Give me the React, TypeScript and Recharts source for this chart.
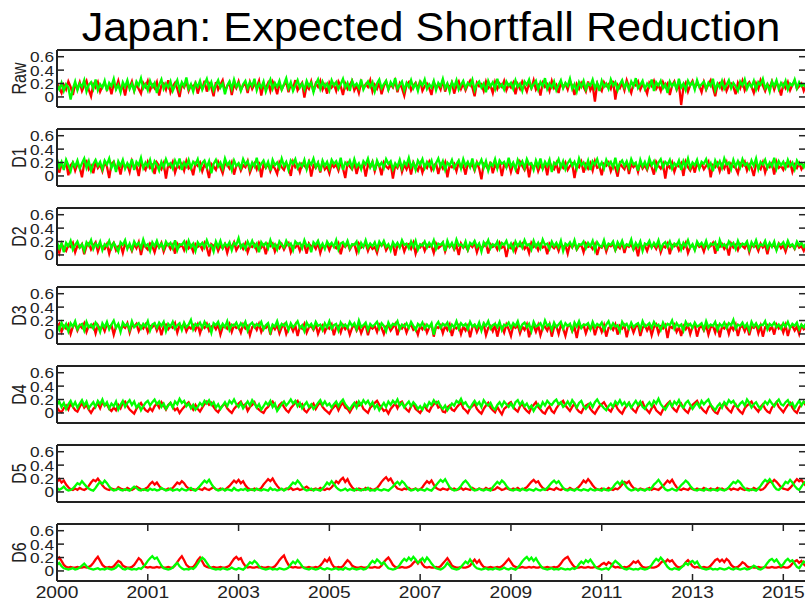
import React from 'react';
import { LineChart, Line, XAxis, YAxis, ReferenceLine } from 'recharts';

// series values are in hundredths (15 = 0.15), one point per step on the x index
const rawRed = [
  20, 13, 6, 18, 11, 23, 15, 3, 19, 12, 22, 9, 17, 24, 11, 1, 19, 14, 22, 8,
  16, 21, 11, 18, 4, 20, 13, 24, 10, 17, 2, 20, 14, 23, 9, 19, 12, 5, 21, 15,
  24, 10, 18, 13, 22, 2, 17, 20, 11, 25, 7, 16, 21, 12, 0, 19, 14, 23, 9, 18,
  15, 21, 5, 17, 12, 24, 8, 20, 14, 1, 22, 11, 18, 25, 9, 16, 21, 3, 19, 13,
  23, 10, 17, 20, 6, 22, 12, 19, 15, 24, 2, 18, 13, 21, 9, 23, 16, 4, 20, 11,
  18, 22, 7, 19, 13, 25, 10, 16, 21, -1, 17, 12, 23, 8, 20, 15, 24, 11, 18, 5,
  21, 14, 19, 9, 23, 16, 3, 20, 12, 18, 24, 10, 17, 6, 22, 13, 19, 15, 25, 8,
  18, 12, 21, 4, 16, 23, 11, 19, 14, 24, 7, 20, 13, 2, 18, 22, 10, 17, 21, 12,
  24, 9, 16, 20, 13, 3, 22, 15, 18, 11, 25, 8, 19, 14, 21, 5, 17, 23, 12, 20,
  10, 18, 24, 14, 1, 21, 16, 19, 9, 23, 13, 17, 6, 22, 12, 20, 15, 24, 10, 18,
  14, 21, 4, 19, 12, 23, 16, 8, 20, 13, 25, 11, 17, 2, 21, 15, 19, 9, 24, 13,
  18, 6, 22, 14, 20, 11, 24, 16, 3, 19, 12, 21, 15, 8, 23, 10, 17, -7, 20, 14,
  9, 22, 16, 19, 12, 24, -4, 18, 13, 21, 10, 25, 15, 6, 20, 17, 23, 11, 19, 14,
  5, 21, 16, 24, 12, 18, 9, 22, 15, 20, 3, 17, 23, 11, 19, -12, 14, 21, 8, 18,
  24, 13, 20, 16, 7, 22, 11, 19, 25, 14, 1, 18, 21, 12, 23, 9, 17, 20, 15, 4,
  21, 13, 24, 10, 18, 22, 15, 6, 20, 12, 25, 17, 9, 19, 14, 23, 11, 21, 16, 2,
  19, 13, 22, 10, 18, 24, 12, 16, 20, 9, 17,
];
const rawGreen = [
  17, 11, 21, 9, 19, 14, -4, 12, 23, 10, 20, 15, 25, 8, 18, 22, 12, 26, 10, 19,
  14, 24, 9, 21, 16, 27, 11, 18, 7, 22, 15, 25, 12, 20, 9, 23, 17, 28, 13, 19,
  10, 24, 15, 21, 6, 18, 26, 12, 20, 14, 23, 9, 17, 25, 11, 22, 16, 29, 12, 19,
  8, 21, 15, 24, 11, 19, 27, 13, 22, 10, 18, 25, 14, 20, 4, 17, 23, 12, 26, 15,
  21, 9, 19, 24, 13, 22, 16, 27, 10, 20, 14, 23, 8, 18, 26, 12, 21, 15, 24, 11,
  19, 28, 13, 22, 9, 17, 25, 14, 20, 11, 24, 16, 21, 7, 19, 26, 12, 23, 15, 20,
  10, 25, 17, 22, 12, 19, 27, 14, 21, 9, 24, 16, 20, 13, 26, 11, 18, 23, 15, 22,
  8, 20, 26, 13, 19, 24, 11, 22, 16, 28, 12, 18, 23, 10, 21, 15, 25, 13, 20, 9,
  23, 17, 26, 12, 19, 14, 24, 10, 21, 16, 27, 13, 20, 8, 22, 15, 25, 11, 18, 24,
  13, 21, 17, 26, 10, 19, 23, 14, 20, 7, 24, 16, 22, 12, 27, 15, 19, 11, 23, 17,
  21, 12, 25, 15, 20, 9, 23, 18, 26, 13, 19, 24, 11, 22, 16, 28, 12, 20, 14, 23,
  10, 18, 25, 13, 21, 16, 27, 12, 19, 8, 22, 15, 24, 11, 20, 17, 26, 13, 21, 9,
  24, 15, 20, 12, 26, 17, 22, 10, 19, 25, 14, 21, 11, 23, 16, 28, 13, 18, 24, 12,
  20, 15, 26, 9, 22, 17, 24, 13, 19, 6, 23, 16, 21, 12, 27, 14, 20, 10, 24, 17,
  22, 11, 25, 15, 19, 23, 12, 21, 16, 27, 10, 20, 14, 24, 12, 18, 25, 13, 21, 16,
  9, 23, 17, 26, 12, 20, 15, 24, 11, 22, 18, 27, 13, 19, 8, 23, 16, 25, 12, 21,
  15, 24, 11, 20, 17, 26, 13, 22, 16, 19, 14,
];
const d1Red = [
  23, 5, 17, 12, 21, 1, 16, 20, 8, 18, 13, -2, 19, 22, 10, 15, 4, 21, 12, 17,
  7, 20, 14, -3, 18, 21, 11, 16, 2, 19, 13, 17, 6, 22, 12, 15, 0, 20, 14, 9,
  21, 12, 16, 3, 20, 15, 10, 19, -4, 17, 13, 21, 5, 16, 12, 18, 8, 22, 11, 14,
  1, 19, 15, 20, 7, 17, 12, -3, 18, 14, 9, 21, 13, 4, 19, 16, 11, 20, 2, 15,
  18, 8, 16, 13, 22, 5, 14, 19, 10, 21, -2, 17, 12, 18, 7, 16, 11, 3, 20, 13,
  9, 19, 14, 0, 21, 13, 17, 6, 18, 15, 11, 20, -1, 16, 12, 19, 5, 22, 10, 14,
  4, 18, 13, 17, 8, 21, 11, -3, 19, 14, 10, 20, 3, 16, 12, 18, -1, 17, 13, 21,
  7, 19, 15, 1, 20, 14, 11, 18, -4, 16, 12, 21, 6, 17, 10, 19, 2, 20, 13, 8,
  18, 5, 16, 12, 21, 9, 15, 19, 3, 17, 11, 20, -2, 16, 13, 18, 7, 21, 12, 15,
  2, 19, 14, 17, 8, 20, 11, -5, 18, 15, 10, 21, 4, 16, 12, 19, 0, 17, 13, 20,
  6, 18, 14, 3, 21, 15, 9, 19, -2, 17, 12, 20, 7, 16, 11, 18, 1, 21, 13, 10,
  19, 4, 17, 12, 20, 9, 15, 18, -3, 16, 13, 21, 5, 17, 11, 19, 8, 22, 12, 14,
  1, 18, 15, 20, 7, 16, 12, -1, 19, 14, 10, 21, 3, 17, 13, 18, 6, 20, 11, 16,
  9, 19, 13, 2, 21, 15, 11, 18, -4, 17, 12, 20, 6, 16, 14, 19, 0, 21, 13, 8,
  17, 5, 20, 12, 18, 10, 15, 21, -2, 16, 13, 19, 7, 17, 11, 20, 3, 18, 14, 12,
  4, 19, 15, 21, 8, 17, 12, 0, 18, 14, 10, 20, 5, 16, 13, 19, 2, 21, 12, 15,
  9, 18, 14, 20, 6, 17, 12, 19, 10, 16, 13,
];
const d1Green = [
  25, 13, 21, 9, 24, 16, 7, 20, 14, 23, 11, 19, 26, 12, 22, 8, 18, 24, 15, 21,
  10, 23, 17, 26, 12, 20, 6, 22, 15, 24, 11, 19, 13, 25, 9, 21, 16, 27, 12, 20,
  14, 24, 10, 22, 17, 8, 21, 13, 25, 16, 19, 11, 23, 15, 26, 9, 20, 14, 24, 12,
  21, 17, 25, 10, 19, 23, 13, 22, 4, 18, 24, 14, 20, 11, 26, 16, 21, 9, 23, 15,
  19, 12, 25, 17, 22, 10, 20, 14, 27, 11, 18, 23, 13, 21, 8, 24, 16, 20, 12, 26,
  15, 21, 9, 23, 18, 25, 12, 19, 14, 24, 10, 22, 17, 26, 13, 20, 7, 23, 15, 21,
  11, 24, 18, 22, 13, 27, 9, 20, 16, 23, 12, 25, 14, 19, 10, 22, 17, 26, 13, 21,
  8, 23, 15, 20, 12, 25, 18, 22, 10, 19, 14, 24, 11, 21, 16, 27, 13, 20, 9, 23,
  17, 25, 12, 21, 15, 23, 10, 19, 26, 14, 22, 9, 20, 16, 24, 12, 18, 23, 11, 25,
  15, 21, 13, 26, 10, 20, 17, 24, 12, 22, 8, 19, 15, 25, 11, 23, 18, 21, 13, 27,
  14, 20, 10, 24, 16, 22, 12, 25, 17, 19, 9, 23, 14, 26, 11, 21, 15, 24, 6, 20,
  17, 25, 13, 22, 10, 19, 24, 15, 21, 11, 26, 16, 20, 12, 23, 9, 22, 17, 25, 14,
  20, 11, 24, 16, 21, 13, 27, 10, 19, 23, 15, 22, 12, 25, 17, 20, 8, 24, 14, 21,
  12, 26, 16, 22, 10, 20, 25, 13, 21, 17, 24, 11, 19, 15, 23, 9, 22, 14, 26, 12,
  20, 16, 24, 11, 21, 18, 25, 13, 19, 7, 23, 15, 22, 12, 26, 17, 20, 10, 24, 14,
  22, 13, 25, 16, 19, 11, 23, 15, 26, 10, 21, 17, 24, 12, 20, 14, 27, 11, 22, 16,
  21, 12, 24, 15, 20, 10, 23, 17, 19, 13, 22,
];
const d2Red = [
  13, 3, 17, 10, 6, 15, 12, 18, 4, 14, 11, 16, 1, 13, 17, 8, 14, 19, 5, 15,
  12, 9, 16, 2, 14, 18, 7, 13, 15, 3, 17, 11, 14, 6, 16, 10, 19, 0, 15, 12,
  8, 17, 13, 4, 16, 11, 18, 5, 14, 16, 9, 15, 2, 17, 12, 15, 7, 18, 10, 14,
  5, 16, 12, 15, 8, 18, 11, -2, 16, 13, 17, 6, 14, 10, 16, 3, 15, 12, 19, 7,
  13, 15, 9, 17, 4, 14, 12, 16, 7, 18, 11, 15, 1, 16, 13, 17, 5, 14, 10, 16,
  8, 15, 18, 4, 13, 11, 16, 6, 15, 14, 2, 17, 12, 15, 9, 18, 3, 14, 11, 16,
  7, 16, 13, 10, 17, 1, 15, 12, 18, 8, 14, 16, 4, 17, 11, 13, 17, 6, 15, 9,
  12, 3, 16, 14, 18, 7, 13, 11, 16, -1, 15, 12, 17, 5, 14, 16, 9, 18, 2, 13,
  11, 16, 6, 15, 12, 14, 3, 17, 10, 13, 18, 5, 15, 12, 16, 8, 14, 0, 17, 11,
  14, 7, 16, 12, 18, 4, 15, 10, 13, 17, 2, 16, 12, 15, 8, 18, 11, 14, -3, 13,
  10, 16, 5, 15, 13, 17, 9, 14, 3, 18, 12, 15, 7, 16, 11, 14, 1, 17, 13, 10,
  15, 6, 17, 12, 14, 2, 16, 11, 18, 8, 13, 15, 4, 17, 12, 14, 9, 16, 0, 13,
  11, 17, 5, 15, 13, 16, 7, 14, 10, 18, 3, 15, 12, 16, 8, 13, -2, 17, 11, 14,
  6, 16, 12, 15, 9, 18, 4, 14, 11, 17, 1, 15, 13, 16, 7, 14, 10, 18, 3, 12,
  15, 8, 17, 12, 14, 5, 16, 11, 13, 18, 2, 15, 12, 16, 9, 14, -1, 17, 11, 15,
  7, 16, 13, 10, 18, 4, 15, 12, 14, 6, 17, 11, 15, 1, 16, 13, 14, 8, 17, 10,
  14, 5, 16, 12, 15, 9, 17, 11, 13, 6, 15,
];
const d2Green = [
  19, 10, 17, 4, 18, 13, 21, 8, 15, 20, 11, 16, 6, 19, 14, 22, 9, 17, 12, 20,
  7, 16, 13, 21, 10, 18, 12, 5, 19, 15, 22, 9, 17, 8, 20, 14, 18, 10, 23, 13,
  16, 6, 19, 13, 21, 11, 17, 9, 20, 14, 18, 10, 22, 7, 16, 15, 20, 8, 21, 12,
  17, 6, 19, 14, 18, 11, 22, 13, 15, 5, 20, 12, 21, 10, 17, 13, 19, 7, 18, 15,
  25, 11, 16, 9, 20, 13, 21, 12, 17, 4, 19, 14, 18, 10, 22, 12, 16, 8, 20, 15,
  11, 21, 14, 17, 7, 20, 16, 18, 10, 22, 13, 16, 4, 19, 15, 21, 11, 17, 9, 20,
  14, 18, 12, 22, 8, 17, 19, 13, 21, 10, 16, 15, 20, 6, 18, 12, 22, 11, 17, 13,
  19, 9, 20, 14, 21, 12, 16, 7, 19, 13, 18, 11, 22, 15, 17, 10, 20, 12, 21, 8,
  16, 14, 20, 11, 18, 13, 22, 9, 17, 15, 19, 6, 21, 12, 18, 10, 23, 14, 16, 11,
  20, 8, 18, 15, 21, 12, 17, 5, 19, 14, 22, 10, 16, 13, 20, 9, 18, 15, 21, 11,
  17, 7, 20, 13, 19, 11, 22, 14, 16, 8, 21, 12, 18, 10, 23, 15, 17, 9, 20, 13,
  18, 11, 21, 6, 17, 14, 19, 12, 22, 9, 16, 15, 20, 10, 18, 13, 21, 7, 19, 14,
  12, 22, 10, 17, 15, 20, 8, 19, 13, 21, 11, 16, 14, 23, 9, 18, 12, 20, 6, 17,
  15, 21, 11, 18, 13, 22, 9, 16, 19, 12, 20, 10, 17, 14, 21, 8, 18, 13, 22, 11,
  16, 7, 20, 14, 18, 12, 21, 10, 17, 15, 19, 6, 22, 13, 16, 11, 20, 14, 18, 9,
  21, 12, 17, 15, 20, 8, 19, 13, 22, 11, 16, 14, 21, 10, 18, 12, 20, 7, 17, 15,
  19, 11, 21, 13, 16, 10, 20, 14, 18, 12, 17,
];
const d3Red = [
  10, 15, 3, 12, 8, 14, 0, 11, 15, 5, 13, 9, 16, 3, 12, 10, 14, 1, 13, 7,
  12, 4, 15, 10, 13, -1, 11, 14, 6, 12, 9, 16, 2, 13, 11, 15, 4, 12, 8, 14,
  3, 12, 10, 15, 5, 13, -2, 11, 14, 7, 12, 9, 16, 2, 13, 10, 15, 4, 11, 8,
  13, 6, 14, 1, 12, 9, 15, 5, 11, 13, 7, 14, -1, 10, 12, 8, 15, 3, 13, 9,
  11, 2, 14, 8, 12, -2, 10, 13, 6, 15, 3, 11, 9, 14, -1, 12, 7, 13, 1, 10,
  14, 0, 9, 12, 4, 13, -3, 11, 8, 15, 2, 10, 12, 6, 14, 0, 9, 13, 3, 11,
  8, 14, -2, 10, 12, 2, 13, 7, 11, -1, 9, 14, 5, 12, 1, 10, 13, -2, 11, 8,
  12, 3, 14, 9, 0, 11, 13, 5, 10, 15, -2, 12, 8, 13, 2, 11, 14, 6, 9, -1,
  12, 7, 13, 2, 10, 14, -4, 11, 9, 13, 1, 12, 6, 14, -3, 10, 8, 13, 0, 11,
  5, 12, -5, 10, 13, 3, 11, 7, 14, -2, 9, 12, 4, 13, -4, 10, 11, 2, 14, 7,
  -3, 12, 9, 13, 1, 11, 6, 14, -5, 10, 12, 3, 13, -2, 9, 11, 5, 14, -4, 10,
  12, 0, 13, 8, -3, 11, 14, 4, 10, -6, 12, 9, 13, 1, 11, 7, 14, -2, 10, 12,
  3, 13, -4, 9, 11, 6, 14, -1, 12, 8, 13, -5, 10, 12, 2, 11, 14, -3, 9, 13,
  5, 12, -2, 10, 14, 1, 11, 8, 13, -6, 12, 9, 14, 3, 10, -3, 12, 7, 13, 0,
  11, 14, -4, 9, 12, 5, 13, -1, 10, 12, 2, 14, -5, 11, 8, 13, 0, 12, 6, 14,
  -3, 10, 12, 4, 13, -2, 11, 9, 14, 1, 12, -4, 10, 13, 6, 11, -1, 14, 8, 12,
  2, 13, -3, 10, 12, 5, 11, 0, 13, 7, 10,
];
const d3Green = [
  13, 6, 17, 9, 15, 4, 16, 11, 19, 7, 13, 15, 5, 18, 10, 14, 8, 17, 12, 3,
  16, 10, 18, 7, 14, 20, 9, 15, 3, 17, 12, 15, 6, 19, 10, 13, 16, 8, 15, 11,
  19, 5, 14, 16, 9, 17, 12, 18, 4, 15, 11, 18, 8, 13, 16, 6, 17, 10, 14, 21,
  7, 15, 12, 17, 9, 18, 11, 14, 2, 16, 13, 18, 8, 15, 10, 19, 6, 14, 12, 17,
  9, 16, 11, 18, 5, 14, 17, 10, 15, 12, 18, 7, 13, 16, 3, 14, 11, 19, 8, 15,
  12, 17, 6, 16, 10, 14, 19, 9, 13, 4, 17, 11, 15, 8, 18, 12, 14, 6, 16, 10,
  19, 8, 13, 15, 5, 17, 11, 14, 9, 18, 12, 16, 7, 20, 10, 13, 17, 6, 15, 11,
  14, 18, 8, 16, 12, 4, 17, 10, 15, 13, 19, 7, 14, 11, 16, 9, 18, 12, 6, 15,
  11, 17, 8, 14, 10, 16, -1, 13, 18, 9, 15, 12, 17, 6, 14, 10, 19, 8, 16, 12,
  15, 7, 18, 11, 14, 9, 17, 5, 16, 12, 19, 8, 13, 15, 10, 18, 6, 14, 12, 17,
  9, 16, 12, 19, 7, 14, 17, 10, 15, 4, 18, 11, 13, 16, 8, 20, 12, 15, 6, 17,
  10, 14, 18, 8, 16, 12, 15, 5, 17, 11, 19, 9, 14, 13, 16, 7, 18, 10, 15, 12,
  17, 6, 14, 19, 9, 16, 11, 13, 4, 18, 12, 15, 8, 17, 10, 14, 16, 7, 19, 11,
  13, 16, 9, 18, 12, 14, 6, 17, 10, 15, 13, 20, 8, 16, 11, 14, 5, 18, 12, 15,
  9, 17, 11, 13, 16, 7, 19, 10, 14, 12, 18, 6, 15, 11, 17, 9, 16, 13, 21, 8,
  14, 12, 17, 10, 15, 5, 18, 11, 16, 9, 14, 13, 19, 7, 15, 12, 17, 10, 14, 8,
  16, 11, 18, 9, 15, 12, 17, 7, 14, 10, 16,
];
const d4Red = [
  8, 3, 1, 7, 11, 5, 14, 9, 4, 2, 9, 15, 8, 12, 5, 0, 6, 10, 14, 7,
  16, 11, 13, 6, 3, 8, 4, 12, 7, 15, 17, 10, 5, 2, -1, 6, 11, 15, 9, 4,
  2, 7, 3, 10, 14, 8, 16, 11, 5, 12, 15, 9, 4, 7, 0, 5, 9, 13, 16, 10,
  5, 12, 6, 2, 8, 13, 17, 12, 15, 9, 4, 1, 7, 11, 14, 7, 3, 0, 6, 10,
  14, 17, 10, 13, 3, 9, 12, 16, 8, 5, 2, 0, 6, 9, 14, 17, 11, 5, 12, 15,
  9, 4, 1, 7, 11, 15, 18, 10, 13, 4, 1, 6, 10, 14, 6, 12, 16, 9, 5, 2,
  -1, 5, 9, 12, 4, 11, 15, 8, 6, 1, 7, 12, 16, 11, 14, 6, 3, 0, 8, 11,
  15, 18, 12, 8, 3, 5, -1, 6, 10, 14, 7, 15, 17, 10, 5, 2, 10, 13, 6, 3,
  0, 6, 11, 4, 2, 9, 13, 16, 8, 10, 2, 1, 8, 11, 5, 3, 8, 12, 15, 7,
  4, 0, 7, 10, 14, 6, 2, -1, 6, 11, 15, 8, 4, 1, 9, 3, -2, 6, 9, 14,
  16, 9, 5, 2, 10, 13, 7, 3, 0, 8, 12, 16, 9, 5, 1, -1, 6, 10, 3, 0,
  7, 12, 15, 18, 11, 7, 3, 9, 14, 6, 2, 0, 7, 11, 13, 6, 2, -1, 5, 10,
  13, 16, 10, 5, 2, 9, 13, 6, 2, -1, 6, 11, 15, 8, 4, 1, 9, 13, 16, 8,
  4, 0, 7, 11, 4, 1, -2, 5, 10, 14, 17, 9, 5, 2, 10, 14, 7, 3, 0, 8,
  12, 15, 18, 11, 7, 3, 0, 8, 12, 5, 1, -1, 7, 11, 15, 8, 4, 1, 9, 13,
  6, 2, -1, 7, 11, 14, 17, 10, 6, 2, 9, 13, 6, 2, 0, 8, 12, 16, 9, 5,
  1, 7, 12, 15, 8, 3, 0, 8, 13, 16, 11,
];
const d4Green = [
  12, 17, 9, 15, 6, 13, 18, 10, 16, 8, 14, 19, 11, 17, 7, 12, 16, 9, 18, 13,
  20, 11, 16, 7, 14, 10, 17, 5, 12, 18, 9, 15, 19, 12, 17, 8, 13, 4, 10, 15,
  18, 11, 16, 20, 13, 17, 9, 14, 6, 11, 15, 8, 17, 13, 21, 15, 18, 10, 14, 7,
  12, 5, 9, 15, 11, 18, 14, 19, 12, 16, 8, 13, 6, 11, 16, 10, 18, 14, 20, 13,
  9, 15, 7, 12, 17, 11, 19, 14, 8, 13, 5, 10, 16, 12, 18, 9, 14, 3, 8, 13,
  17, 11, 15, 20, 14, 18, 10, 15, 7, 12, 16, 9, 13, 6, 10, 15, 19, 12, 17, 11,
  14, 8, 13, 17, 10, 16, 20, 13, 9, 5, 11, 15, 8, 17, 12, 19, 14, 18, 11, 16,
  7, 12, 4, 10, 15, 9, 17, 12, 18, 14, 20, 11, 15, 8, 13, 17, 10, 16, 12, 6,
  10, 5, 13, 9, 16, 12, 19, 14, 17, 10, 6, 11, 4, 9, 14, 11, 18, 15, 21, 13,
  16, 10, 7, 13, 18, 12, 16, 9, 19, 14, 11, 15, 8, 5, 12, 16, 10, 17, 13, 9,
  14, 8, 16, 19, 12, 17, 10, 14, 7, 11, 3, 9, 13, 8, 16, 11, 18, 14, 12, 17,
  20, 13, 16, 9, 12, 17, 11, 19, 14, 8, 15, 18, 10, 6, 11, 15, 9, 16, 20, 14,
  11, 7, 4, 10, 14, 9, 17, 13, 19, 12, 16, 10, 15, 8, 13, 18, 12, 17, 9, 6,
  12, 16, 10, 18, 14, 21, 13, 9, 5, 11, 16, 10, 17, 13, 19, 11, 8, 15, 18, 12,
  6, 11, 15, 9, 18, 13, 17, 20, 12, 8, 4, 10, 14, 8, 16, 12, 19, 15, 18, 11,
  9, 14, 17, 11, 20, 15, 8, 13, 16, 10, 6, 12, 17, 13, 19, 14, 10, 16, 20, 13,
  11, 16, 19, 12, 15, 7, 13, 18, 11, 17, 14,
];
const d5Red = [
  15, 19, 14, 17, 11, 7, 4, 3, 5, 3, 6, 4, 3, 5, 9, 14, 18, 16, 20, 15,
  10, 6, 4, 3, 5, 4, 3, 7, 5, 4, 3, 6, 4, 3, 5, 8, 6, 4, 3, 5,
  7, 12, 15, 11, 14, 9, 5, 4, 3, 5, 4, 6, 10, 14, 12, 16, 13, 8, 5, 3,
  4, 3, 5, 4, 3, 6, 4, 3, 5, 7, 4, 3, 5, 4, 3, 6, 9, 13, 17, 14,
  18, 13, 16, 10, 6, 4, 3, 5, 4, 3, 6, 11, 15, 19, 16, 20, 14, 9, 5, 4,
  3, 5, 4, 6, 3, 4, 5, 3, 4, 6, 8, 5, 3, 4, 5, 3, 6, 4, 3, 5,
  4, 7, 11, 16, 13, 18, 21, 15, 19, 12, 7, 4, 3, 5, 4, 3, 6, 4, 5, 3,
  4, 6, 10, 15, 19, 22, 17, 20, 14, 9, 5, 4, 3, 5, 4, 6, 3, 4, 5, 3,
  4, 7, 12, 16, 13, 17, 11, 6, 4, 3, 5, 4, 3, 6, 4, 5, 3, 4, 6, 3,
  5, 4, 3, 6, 4, 3, 5, 4, 3, 6, 4, 5, 3, 4, 7, 5, 3, 4, 6, 4,
  3, 5, 4, 6, 3, 4, 5, 7, 11, 15, 18, 14, 16, 10, 6, 4, 3, 5, 4, 3,
  6, 4, 3, 5, 4, 3, 6, 4, 3, 5, 8, 12, 17, 14, 19, 15, 10, 6, 4, 3,
  5, 4, 3, 6, 4, 3, 5, 4, 7, 11, 15, 13, 16, 10, 6, 4, 3, 5, 4, 3,
  4, 6, 3, 5, 4, 3, 6, 9, 13, 17, 14, 18, 12, 7, 4, 3, 5, 4, 3, 6,
  4, 3, 5, 4, 3, 6, 4, 3, 5, 4, 3, 6, 4, 5, 3, 4, 6, 3, 5, 4,
  3, 6, 4, 3, 5, 4, 3, 6, 4, 5, 3, 4, 7, 12, 16, 14, 18, 15, 11, 7,
  5, 4, 3, 6, 10, 15, 19, 16, 18, 13, 9,
];
const d5Green = [
  6, 3, 5, 8, 4, 2, 3, 5, 9, 13, 11, 16, 12, 8, 5, 3, 2, 6, 11, 15,
  12, 17, 13, 8, 4, 2, 3, 5, 3, 2, 4, 3, 2, 5, 8, 6, 3, 2, 4, 3,
  2, 5, 3, 4, 2, 3, 6, 4, 2, 3, 5, 2, 3, 4, 2, 5, 3, 2, 4, 6,
  3, 2, 5, 9, 13, 17, 14, 18, 12, 7, 4, 2, 3, 5, 2, 4, 3, 2, 6, 3,
  2, 4, 3, 5, 2, 3, 4, 2, 5, 3, 2, 4, 3, 2, 6, 3, 4, 2, 3, 5,
  2, 4, 6, 10, 14, 12, 17, 13, 8, 4, 2, 3, 5, 2, 4, 3, 2, 5, 9, 14,
  11, 16, 12, 7, 4, 2, 3, 5, 2, 4, 3, 2, 5, 3, 2, 4, 3, 6, 2, 3,
  2, 5, 3, 2, 4, 3, 2, 5, 8, 12, 15, 11, 16, 13, 8, 4, 2, 3, 5, 2,
  4, 3, 2, 5, 3, 2, 6, 10, 14, 18, 15, 19, 13, 7, 4, 2, 3, 5, 9, 14,
  17, 13, 8, 4, 2, 3, 5, 3, 2, 4, 3, 2, 7, 11, 15, 12, 17, 14, 9, 5,
  3, 2, 4, 3, 2, 5, 3, 2, 4, 3, 2, 5, 3, 2, 4, 3, 6, 10, 14, 17,
  13, 16, 11, 6, 3, 2, 4, 3, 2, 5, 3, 2, 4, 3, 2, 5, 3, 2, 4, 3,
  2, 5, 3, 2, 4, 7, 12, 15, 11, 16, 12, 7, 4, 2, 3, 5, 2, 4, 3, 2,
  5, 3, 6, 11, 14, 18, 13, 8, 4, 2, 3, 5, 3, 2, 6, 10, 13, 17, 14, 9,
  5, 3, 2, 4, 3, 2, 5, 3, 2, 4, 3, 2, 5, 3, 2, 4, 7, 11, 15, 13,
  17, 14, 9, 5, 3, 2, 4, 3, 2, 5, 9, 14, 18, 15, 19, 14, 8, 4, 3, 6,
  10, 15, 13, 18, 14, 9, 5, 3, 8, 13, 16,
];
const d6Red = [
  17, 20, 15, 9, 6, 5, 6, 5, 5, 6, 5, 5, 6, 5, 6, 8, 12, 17, 21, 15,
  9, 6, 5, 6, 5, 7, 11, 15, 13, 8, 6, 5, 5, 6, 9, 14, 19, 16, 10, 6,
  5, 6, 5, 5, 6, 5, 6, 5, 5, 6, 5, 5, 8, 13, 18, 22, 16, 9, 6, 5,
  6, 10, 16, 20, 14, 8, 6, 5, 5, 6, 5, 5, 6, 5, 5, 6, 8, 13, 18, 21,
  17, 19, 12, 7, 5, 6, 5, 5, 6, 5, 6, 5, 5, 6, 5, 5, 7, 11, 16, 20,
  23, 15, 9, 6, 5, 6, 5, 5, 6, 5, 5, 6, 5, 5, 6, 5, 8, 12, 17, 14,
  19, 11, 6, 5, 6, 5, 7, 12, 16, 13, 8, 6, 5, 5, 6, 5, 5, 6, 5, 5,
  6, 5, 5, 8, 13, 17, 20, 15, 9, 6, 5, 5, 6, 5, 5, 6, 8, 12, 15, 11,
  16, 10, 6, 5, 6, 5, 5, 6, 5, 7, 11, 15, 19, 14, 8, 6, 5, 5, 6, 5,
  5, 6, 8, 13, 17, 12, 16, 10, 6, 5, 5, 6, 5, 5, 6, 5, 7, 10, 14, 18,
  13, 8, 6, 5, 5, 6, 5, 5, 6, 5, 6, 5, 5, 6, 5, 5, 6, 5, 5, 6,
  5, 7, 11, 16, 19, 21, 15, 10, 6, 5, 5, 6, 5, 5, 6, 5, 5, 6, 5, 7,
  10, 12, 9, 13, 11, 7, 5, 6, 5, 5, 6, 5, 7, 10, 14, 12, 15, 10, 6, 5,
  5, 6, 5, 5, 6, 8, 12, 15, 13, 17, 14, 16, 11, 7, 5, 6, 8, 13, 16, 12,
  7, 5, 6, 5, 5, 6, 5, 5, 8, 12, 16, 18, 14, 17, 13, 18, 15, 9, 6, 5,
  6, 9, 13, 11, 7, 5, 6, 5, 5, 6, 5, 5, 6, 5, 5, 6, 5, 5, 6, 5,
  6, 5, 5, 7, 11, 14, 16, 12, 15, 10, 7,
];
const d6Green = [
  9, 12, 7, 4, 3, 2, 3, 4, 2, 3, 5, 8, 11, 7, 4, 3, 2, 3, 4, 2,
  3, 2, 4, 3, 2, 3, 5, 9, 6, 3, 2, 4, 3, 2, 3, 2, 4, 3, 6, 10,
  15, 19, 22, 18, 20, 14, 8, 4, 3, 2, 3, 5, 9, 12, 7, 4, 2, 3, 2, 4,
  3, 6, 11, 16, 20, 17, 12, 7, 4, 3, 2, 3, 2, 4, 3, 2, 3, 5, 3, 2,
  4, 3, 2, 5, 9, 13, 11, 15, 12, 7, 4, 3, 2, 3, 4, 2, 3, 2, 4, 3,
  2, 3, 5, 10, 14, 11, 16, 12, 7, 4, 3, 2, 4, 3, 2, 3, 5, 3, 2, 4,
  3, 2, 3, 4, 2, 3, 2, 5, 3, 2, 4, 3, 2, 3, 4, 2, 3, 6, 11, 15,
  12, 17, 14, 10, 13, 8, 4, 3, 2, 3, 5, 9, 14, 18, 15, 20, 16, 21, 17, 12,
  15, 19, 14, 20, 16, 11, 7, 4, 3, 2, 4, 7, 12, 8, 4, 3, 2, 3, 6, 10,
  14, 11, 17, 12, 7, 4, 3, 2, 3, 4, 2, 3, 2, 4, 3, 2, 3, 5, 3, 2,
  4, 3, 2, 5, 9, 14, 18, 21, 16, 20, 15, 19, 13, 8, 4, 3, 2, 3, 4, 2,
  3, 2, 4, 3, 2, 3, 2, 4, 3, 5, 10, 14, 11, 16, 13, 17, 12, 7, 4, 3,
  2, 3, 4, 2, 6, 11, 15, 12, 9, 5, 3, 2, 4, 3, 2, 3, 2, 4, 3, 2,
  3, 5, 9, 14, 18, 15, 20, 16, 11, 6, 3, 2, 4, 3, 2, 5, 8, 12, 9, 13,
  15, 11, 14, 8, 4, 3, 2, 3, 4, 2, 3, 2, 4, 3, 2, 3, 5, 3, 2, 4,
  3, 2, 3, 4, 2, 3, 5, 8, 6, 3, 2, 4, 7, 12, 16, 18, 14, 17, 12, 7,
  10, 15, 18, 14, 16, 11, 6, 4, 9, 14, 12,
];

const panelNames = ['Raw', 'D1', 'D2', 'D3', 'D4', 'D5', 'D6'];
const redSeries = [rawRed, d1Red, d2Red, d3Red, d4Red, d5Red, d6Red];
const greenSeries = [rawGreen, d1Green, d2Green, d3Green, d4Green, d5Green, d6Green];

const yearTicks = [0, 40, 80, 120, 160, 200, 240, 280, 320];
const yearLabels = ['2000', '2001', '2003', '2005', '2007', '2009', '2011', '2013', '2015'];
const yTicks = [0, 0.2, 0.4, 0.6];

const FONT = '"Liberation Sans", Arial, Helvetica, sans-serif';
const INK = '#222';
const PLOT_LEFT = 57;
const PLOT_RIGHT = 806;
const PANEL_H = 57;
const PAD = 10;
const panelTops = [50, 129, 208, 287, 366, 445, 524];

const YTick = (props: any) => {
  const { y, payload } = props;
  const v = payload.value;
  const label = v === 0 ? '0' : v.toFixed(1);
  return (
    <g>
      <line x1={PLOT_LEFT} x2={PLOT_LEFT + 7} y1={y} y2={y} stroke={INK} strokeWidth={1.5} />
      <line x1={PLOT_RIGHT - 7} x2={PLOT_RIGHT} y1={y} y2={y} stroke={INK} strokeWidth={1.5} />
      <text
        transform={`translate(54, ${y}) scale(1.15, 1)`}
        textAnchor="end"
        dy="0.36em"
        fontSize={15}
        fontFamily={FONT}
        fill={INK}
      >
        {label}
      </text>
    </g>
  );
};

const XTick = (props: any) => {
  const { x, payload } = props;
  const label = yearLabels[yearTicks.indexOf(payload.value)];
  return (
    <g>
      <line x1={x} x2={x} y1={PAD + PANEL_H} y2={PAD + PANEL_H - 7} stroke={INK} strokeWidth={1.5} />
      <line x1={x} x2={x} y1={PAD} y2={PAD + 7} stroke={INK} strokeWidth={1.5} />
      <text
        transform={`translate(${x}, ${PAD + PANEL_H + 17}) scale(1.2, 1)`}
        textAnchor="middle"
        fontSize={16}
        fontFamily={FONT}
        fill={INK}
      >
        {label}
      </text>
    </g>
  );
};

const Panel = ({ index }: { index: number }) => {
  const red = redSeries[index];
  const green = greenSeries[index];
  const n = Math.max(red.length, green.length);
  const rows = Array.from({ length: n }, (_, i) => ({
    x: i,
    red: red[i] === undefined ? null : red[i] / 100,
    green: green[i] === undefined ? null : green[i] / 100,
  }));
  const last = index === panelNames.length - 1;
  const height = last ? PAD + PANEL_H + 23 : PAD * 2 + PANEL_H;
  return (
    <div style={{ position: 'absolute', left: 0, top: panelTops[index] - PAD }}>
      <LineChart
        width={PLOT_RIGHT + 14}
        height={height}
        data={rows}
        margin={{ top: PAD, right: 14, bottom: last ? 0 : PAD, left: 0 }}
      >
        <XAxis
          dataKey="x"
          type="number"
          domain={[0, 330]}
          ticks={yearTicks}
          interval={0}
          allowDataOverflow
          axisLine={false}
          tickLine={false}
          tick={last ? (p: any) => <XTick {...p} /> : false}
          height={last ? 23 : 0}
        />
        <YAxis
          type="number"
          domain={[-0.15, 0.7]}
          ticks={yTicks}
          interval={0}
          allowDataOverflow
          width={PLOT_LEFT}
          tickLine={false}
          axisLine={{ stroke: INK, strokeWidth: 2 }}
          tick={(p: any) => <YTick {...p} />}
        />
        <ReferenceLine y={0.7} stroke={INK} strokeWidth={2} />
        <ReferenceLine y={-0.15} stroke={INK} strokeWidth={2} />
        <Line dataKey="red" stroke="#ff0000" strokeWidth={2.3} dot={false} isAnimationActive={false} />
        <Line dataKey="green" stroke="#00ff00" strokeWidth={2.3} dot={false} isAnimationActive={false} />
      </LineChart>
    </div>
  );
};

export default function App() {
  return (
    <div
      style={{
        position: 'fixed',
        left: 0,
        top: 0,
        width: 805,
        height: 600,
        overflow: 'hidden',
        background: '#fff',
      }}
    >
      {panelNames.map((_, i) => (
        <Panel key={i} index={i} />
      ))}
      <svg
        width={805}
        height={600}
        style={{ position: 'absolute', left: 0, top: 0, pointerEvents: 'none' }}
      >
        <text
          transform="translate(431, 41) scale(1.08, 1)"
          textAnchor="middle"
          fontSize={40}
          fontFamily={FONT}
          fill="#000"
        >
          Japan: Expected Shortfall Reduction
        </text>
        {panelNames.map((name, i) => (
          <text
            key={name}
            transform={`translate(19, ${panelTops[i] + PANEL_H / 2}) scale(1.25, 1) rotate(-90)`}
            textAnchor="middle"
            dy="0.36em"
            fontSize={16}
            fontFamily={FONT}
            fill={INK}
          >
            {name}
          </text>
        ))}
      </svg>
    </div>
  );
}
